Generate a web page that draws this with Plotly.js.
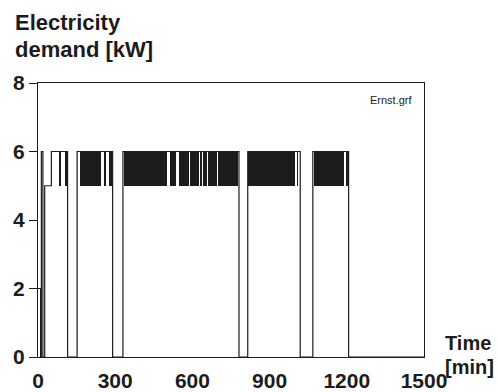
<!DOCTYPE html>
<html>
<head>
<meta charset="utf-8">
<script src="https://cdn.plot.ly/plotly-3.0.1.min.js"></script>
<style>html,body{margin:0;padding:0;background:#fff;}#chart{width:498px;height:392px;}</style>
</head>
<body>
<div id="chart"></div>
<script>
// Step profile: change points (minutes) and the demand held from each point (kW)
const stepTime  = [0, 10, 13, 19, 26, 52, 115, 152, 290, 330, 781, 815, 1019, 1068, 1207, 1500];
const stepValue = [2, 0,  6,  0,  5,  6,  0,   6,   0,   6,   0,   6,   0,    6,    0,    0];

// Intervals of rapid 5/6 kW switching (drawn as solid black)
const switchStart = [82, 104, 165, 192, 211, 235, 258, 275, 333, 381, 428, 512, 547, 591, 629, 641, 660, 699, 817, 891, 1005, 1074, 1198];
const switchEnd   = [90, 115, 190, 209, 233, 245, 263, 289, 379, 426, 500, 535, 586, 627, 636, 656, 697, 778, 889, 999, 1009, 1190, 1203];
const switchLow = 5, switchHigh = 6;

const xTicks = [0, 300, 600, 900, 1200, 1500];
const yTicks = [0, 2, 4, 6, 8];

const ink = '#1c1c1c';
const font = 'Liberation Sans, Arial, Helvetica, sans-serif';

const bars = {
  type: 'bar',
  x: switchStart.map((s, i) => (s + switchEnd[i]) / 2),
  width: switchStart.map((s, i) => switchEnd[i] - s),
  y: switchStart.map(() => switchHigh - switchLow),
  base: switchStart.map(() => switchLow),
  marker: {color: ink, line: {width: 0}},
  hoverinfo: 'skip'
};

const line = {
  type: 'scatter',
  mode: 'lines',
  x: stepTime,
  y: stepValue,
  line: {shape: 'hv', color: ink, width: 1.2},
  hoverinfo: 'skip'
};

const layout = {
  width: 498, height: 392,
  margin: {l: 38, r: 74, t: 83, b: 35},
  paper_bgcolor: '#fff', plot_bgcolor: '#fff',
  showlegend: false,
  bargap: 0,
  xaxis: {
    range: [0, 1500], tickvals: xTicks, ticktext: xTicks.map(String),
    showgrid: false, zeroline: false, showline: true, mirror: true,
    linecolor: ink, linewidth: 1, ticks: '', ticklabelstandoff: 5,
    tickfont: {family: font, size: 21, color: ink, weight: 'bold'}
  },
  yaxis: {
    range: [0, 8], tickvals: yTicks, ticktext: yTicks.map(String),
    showgrid: false, zeroline: false, showline: true, mirror: true,
    linecolor: ink, linewidth: 1, ticks: 'outside', ticklen: 8, tickcolor: ink,
    tickfont: {family: font, size: 21, color: ink, weight: 'bold'}
  },
  annotations: [
    {xref: 'paper', yref: 'paper', x: -0.0655, y: 1.2226, xanchor: 'left', yanchor: 'middle',
     text: '<b>Electricity</b>', showarrow: false, font: {family: font, size: 22, color: ink}},
    {xref: 'paper', yref: 'paper', x: -0.0655, y: 1.124, xanchor: 'left', yanchor: 'middle',
     text: '<b>demand [kW]</b>', showarrow: false, font: {family: font, size: 22, color: ink}},
    {xref: 'paper', yref: 'paper', x: 1.049, y: 0.05, xanchor: 'left', yanchor: 'middle',
     text: '<b>Time</b>', showarrow: false, font: {family: font, size: 20, color: ink}},
    {xref: 'paper', yref: 'paper', x: 1.049, y: -0.035, xanchor: 'left', yanchor: 'middle',
     text: '<b>[min]</b>', showarrow: false, font: {family: font, size: 20, color: ink}},
    {xref: 'x', yref: 'y', x: 1464, y: 7.5, xanchor: 'right', yanchor: 'middle',
     text: 'Ernst.grf', showarrow: false, font: {family: font, size: 11, color: ink}}
  ]
};

Plotly.newPlot('chart', [bars, line], layout, {staticPlot: true, displayModeBar: false});
</script>
</body>
</html>
